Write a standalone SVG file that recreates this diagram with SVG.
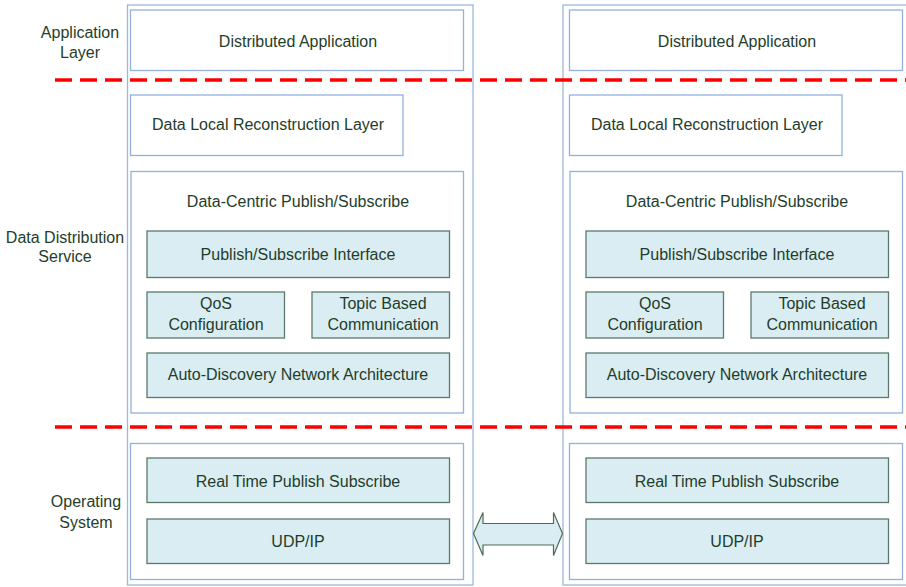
<svg xmlns="http://www.w3.org/2000/svg" width="906" height="587" viewBox="0 0 906 587">
<style>
text{font-family:"Liberation Sans",Arial,sans-serif;font-size:16px;fill:#1f3d2b;text-anchor:middle;dominant-baseline:central}
.outer{fill:none;stroke:#9db8dc;stroke-width:1.3}
.frame{fill:#fff;stroke:#93b1da;stroke-width:1.3}
.blk{fill:#daedf2;stroke:#5b7a69;stroke-width:1.3}
.dash{stroke:#ff0000;stroke-width:3.5;stroke-dasharray:17 8;fill:none}
</style>
<rect width="906" height="587" fill="#fff"/>
<g id="layer-labels">
<text x="80" y="32">Application</text>
<text x="80" y="52">Layer</text>
<text x="65" y="237">Data Distribution</text>
<text x="65" y="256">Service</text>
<text x="86" y="501">Operating</text>
<text x="86" y="522">System</text>
</g>
<g id="node-left">
<rect class="outer" x="127.5" y="5" width="345.5" height="580"/>
<g id="left-app"><rect class="frame" x="130.5" y="10" width="333" height="60.5"/><text x="298" y="41">Distributed Application</text></g>
<g id="left-dlrl"><rect class="frame" x="130.5" y="95" width="272.5" height="60.5"/><text x="268" y="124.5">Data Local Reconstruction Layer</text></g>
<g id="left-dcps"><rect class="frame" x="131" y="171.5" width="332.5" height="241.5"/><text x="298" y="201.5">Data-Centric Publish/Subscribe</text></g>
<g id="left-psi"><rect class="blk" x="147" y="231" width="302.5" height="46.5"/><text x="298" y="254.5">Publish/Subscribe Interface</text></g>
<g id="left-qos"><rect class="blk" x="147" y="292" width="137.5" height="46"/><text x="216" y="303.5">QoS</text><text x="216" y="324.5">Configuration</text></g>
<g id="left-topic"><rect class="blk" x="312" y="292" width="137.5" height="46"/><text x="383" y="303.5">Topic Based</text><text x="383" y="324.5">Communication</text></g>
<g id="left-adna"><rect class="blk" x="147" y="353" width="302.5" height="44.5"/><text x="298" y="374.5">Auto-Discovery Network Architecture</text></g>
<g id="left-os"><rect class="frame" x="130.5" y="443.5" width="333" height="136"/></g>
<g id="left-rtps"><rect class="blk" x="147" y="458" width="302.5" height="44.5"/><text x="298" y="481">Real Time Publish Subscribe</text></g>
<g id="left-udp"><rect class="blk" x="147" y="519" width="302.5" height="44.5"/><text x="298" y="541">UDP/IP</text></g>
</g>
<g id="node-right" transform="translate(439,0)">
<rect class="outer" x="124" y="5" width="345.5" height="580"/>
<g id="right-app"><rect class="frame" x="130.5" y="10" width="333" height="60.5"/><text x="298" y="41">Distributed Application</text></g>
<g id="right-dlrl"><rect class="frame" x="130.5" y="95" width="272.5" height="60.5"/><text x="268" y="124.5">Data Local Reconstruction Layer</text></g>
<g id="right-dcps"><rect class="frame" x="131" y="171.5" width="332.5" height="241.5"/><text x="298" y="201.5">Data-Centric Publish/Subscribe</text></g>
<g id="right-psi"><rect class="blk" x="147" y="231" width="302.5" height="46.5"/><text x="298" y="254.5">Publish/Subscribe Interface</text></g>
<g id="right-qos"><rect class="blk" x="147" y="292" width="137.5" height="46"/><text x="216" y="303.5">QoS</text><text x="216" y="324.5">Configuration</text></g>
<g id="right-topic"><rect class="blk" x="312" y="292" width="137.5" height="46"/><text x="383" y="303.5">Topic Based</text><text x="383" y="324.5">Communication</text></g>
<g id="right-adna"><rect class="blk" x="147" y="353" width="302.5" height="44.5"/><text x="298" y="374.5">Auto-Discovery Network Architecture</text></g>
<g id="right-os"><rect class="frame" x="130.5" y="443.5" width="333" height="136"/></g>
<g id="right-rtps"><rect class="blk" x="147" y="458" width="302.5" height="44.5"/><text x="298" y="481">Real Time Publish Subscribe</text></g>
<g id="right-udp"><rect class="blk" x="147" y="519" width="302.5" height="44.5"/><text x="298" y="541">UDP/IP</text></g>
</g>
<g id="connectors">
<line class="dash" x1="55" y1="80" x2="906" y2="80"/>
<line class="dash" x1="55" y1="427" x2="906" y2="427"/>
<path d="M473.5,533.5 L483,512.5 L483,523.5 L553.5,523.5 L553.5,512.5 L562.5,533.5 L553.5,555.5 L553.5,545 L483,545 L483,555.5 Z" fill="#daedf2" stroke="#4f6b58" stroke-width="1.2"/>
</g>
</svg>
